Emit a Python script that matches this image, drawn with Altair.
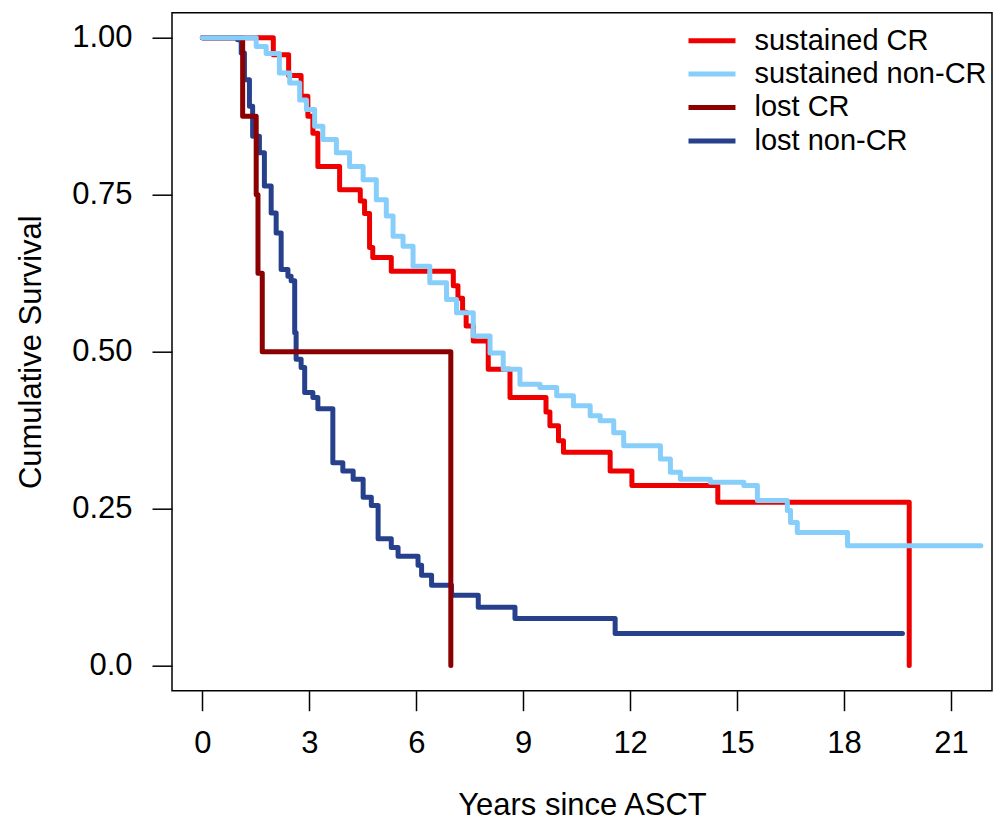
import altair as alt
import pandas as pd

# ---- data (years since ASCT, cumulative survival) ----
groups = ["sustained CR", "sustained non-CR", "lost CR", "lost non-CR"]
colors = ["#EE0000", "#87CEFA", "#8B0000", "#27408B"]

sus_cr_t = [0, 1.99, 2.42, 2.77, 2.96, 3.10, 3.24, 3.85, 4.43, 4.55, 4.69, 4.78, 5.30,
            7.04, 7.17, 7.30, 7.40, 7.60, 8.02, 8.63, 9.64, 9.75, 9.99, 10.13, 11.44,
            12.05, 14.46, 19.83]
sus_cr_s = [1.0, 0.973, 0.940, 0.907, 0.875, 0.848, 0.795, 0.758, 0.740, 0.720, 0.666,
            0.650, 0.628, 0.605, 0.585, 0.563, 0.541, 0.517, 0.472, 0.427, 0.404, 0.382,
            0.358, 0.340, 0.310, 0.287, 0.260, 0.0]

sus_non_t = [0, 1.04, 1.51, 1.79, 2.16, 2.45, 2.73, 2.92, 3.15, 3.38, 3.76, 4.13, 4.51,
             4.88, 5.16, 5.35, 5.63, 5.91, 6.38, 6.85, 7.13, 7.60, 8.07, 8.44, 8.91,
             9.47, 9.94, 10.41, 10.88, 11.16, 11.54, 11.82, 12.76, 12.85, 13.13, 13.41,
             14.25, 15.19, 15.57, 16.41, 16.50, 16.69, 18.10, 21.84]
sus_non_s = [1.0, 1.0, 0.986, 0.975, 0.944, 0.928, 0.901, 0.886, 0.859, 0.838, 0.817,
             0.795, 0.774, 0.742, 0.716, 0.684, 0.668, 0.636, 0.610, 0.583, 0.562, 0.525,
             0.498, 0.472, 0.448, 0.443, 0.430, 0.414, 0.398, 0.390, 0.371, 0.350, 0.350,
             0.329, 0.308, 0.297, 0.292, 0.287, 0.263, 0.247, 0.228, 0.212, 0.191, 0.191]

lost_cr_t = [0, 1.13, 1.51, 1.56, 1.68, 6.97]
lost_cr_s = [1.0, 0.875, 0.75, 0.625, 0.5, 0.0]

lost_non_t = [0, 0.99, 1.09, 1.18, 1.32, 1.41, 1.60, 1.74, 1.93, 2.07, 2.21, 2.40, 2.49,
              2.59, 2.63, 2.77, 2.87, 3.10, 3.24, 3.66, 3.94, 4.23, 4.51, 4.74, 4.93,
              5.30, 5.49, 6.05, 6.15, 6.43, 6.99, 7.74, 8.77, 11.58, 19.64]
lost_non_s = [1.0, 0.997, 0.976, 0.933, 0.891, 0.843, 0.817, 0.764, 0.721, 0.689, 0.631,
              0.620, 0.613, 0.530, 0.488, 0.475, 0.435, 0.427, 0.409, 0.323, 0.310, 0.297,
              0.268, 0.255, 0.202, 0.188, 0.174, 0.160, 0.144, 0.128, 0.112, 0.093, 0.075,
              0.051, 0.051]

x_ticks = [0, 3, 6, 9, 12, 15, 18, 21]
y_ticks = [0, 0.25, 0.5, 0.75, 1.0]

series = {
    "sustained CR": (sus_cr_t, sus_cr_s),
    "sustained non-CR": (sus_non_t, sus_non_s),
    "lost CR": (lost_cr_t, lost_cr_s),
    "lost non-CR": (lost_non_t, lost_non_s),
}
rows = []
for g, (ts, ss) in series.items():
    for i, (t, s) in enumerate(zip(ts, ss)):
        rows.append({"group": g, "t": t, "s": s, "i": i})
df = pd.DataFrame(rows)

FONT = "Liberation Sans"

x_enc = alt.X("t:Q", scale=alt.Scale(domain=[-0.852, 22.152], nice=False, zero=False),
              axis=alt.Axis(values=x_ticks, title="Years since ASCT", format="d",
                            tickSize=20, labelPadding=18, titlePadding=32))
y_enc = alt.Y("s:Q", scale=alt.Scale(domain=[-0.04, 1.04], nice=False, zero=False),
              axis=alt.Axis(values=y_ticks, title="Cumulative Survival",
                            labelExpr="datum.value == 0 ? '0.0' : format(datum.value, '.2f')",
                            tickSize=20, labelPadding=20, titlePadding=24))
color_enc = alt.Color("group:N",
                      scale=alt.Scale(domain=groups, range=colors),
                      legend=alt.Legend(title=None, orient="none", legendX=525.5, legendY=13.5,
                                        symbolType="M-2,0H2", symbolSize=552,
                                        symbolStrokeWidth=5, labelFontSize=29, labelFont=FONT,
                                        labelOffset=28, rowPadding=3.4, padding=0,
                                        labelLimit=0, labelColor="black"))

draw_order = ["sustained CR", "lost non-CR", "lost CR", "sustained non-CR"]
layers = []
for g in draw_order:
    layers.append(
        alt.Chart(df).transform_filter(alt.datum.group == g)
        .mark_line(interpolate="step-after", strokeWidth=5, strokeCap="round", strokeJoin="round")
        .encode(x=x_enc, y=y_enc, color=color_enc, order="i:Q")
    )

chart = alt.layer(*layers).properties(
    width=820, height=678,
    autosize="none",
    padding={"left": 164, "top": 4.7, "right": 8, "bottom": 134},
).configure_view(stroke="black", strokeWidth=1.5).configure_axis(
    domain=False, grid=False, tickColor="black", tickWidth=1.5,
    labelFont=FONT, labelFontSize=31, labelColor="black",
    titleFont=FONT, titleFontSize=31, titleColor="black", titleFontWeight="normal",
)

chart.save("out.html", embed_options={"renderer": "svg", "actions": False})
